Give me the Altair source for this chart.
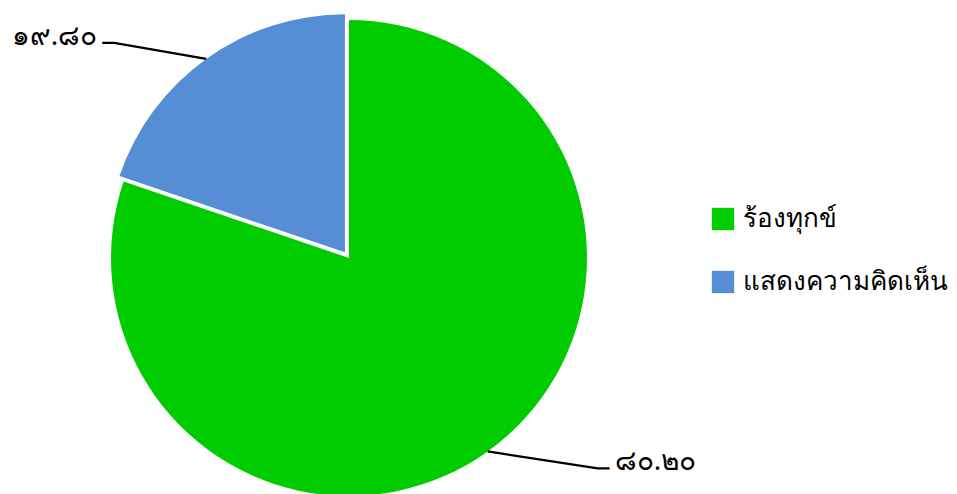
import math
import altair as alt
import pandas as pd

# ---- data ----
categories = ["ร้องทุกข์", "แสดงความคิดเห็น"]
values = [80.20, 19.80]
value_labels = ["๘๐.๒๐", "๑๙.๘๐"]
colors = ["#00CC00", "#558ED5"]

# ---- layout / style ----
W, H = 941, 500
CX, CY = 341, 250
R = 238
EXPLODE = [0, 7]
ELBOW = [(110, 17), (-92, -16)]   # leader elbow offsets from slice edge
TAIL = [12, -12]
FONT = "Tahoma, Noto Sans, DejaVu Sans, sans-serif"

total = sum(values)
rows, line_rows = [], []
start = 0.0
for i, (c, v, lab) in enumerate(zip(categories, values, value_labels)):
    a0 = start / total * 2 * math.pi
    a1 = (start + v) / total * 2 * math.pi
    mid = (a0 + a1) / 2
    start += v
    sx, sy = math.sin(mid), -math.cos(mid)
    cx = CX + EXPLODE[i] * sx
    cy = CY + EXPLODE[i] * sy
    ex, ey = cx + R * sx, cy + R * sy
    bx, by = ex + ELBOW[i][0], ey + ELBOW[i][1]
    tx, ty = bx + TAIL[i], by
    rows.append(dict(category=c, value=v, label=lab, ord=i, cx=cx, cy=cy,
                     tx=tx + (5 if TAIL[i] > 0 else -5), ty=ty - 6,
                     side="right" if TAIL[i] > 0 else "left"))
    for k, (px, py) in enumerate([(ex, ey), (bx, by), (tx, ty)]):
        line_rows.append(dict(category=c, k=k, px=px, py=py))

df = pd.DataFrame(rows)
ldf = pd.DataFrame(line_rows)

color = alt.Color(
    "category:N",
    scale=alt.Scale(domain=categories, range=colors),
    legend=alt.Legend(
        title=None, orient="none", legendX=702, legendY=198,
        symbolType="square", symbolSize=500, symbolStrokeWidth=0,
        labelFontSize=26, labelFont=FONT, labelColor="#000000",
        labelLimit=400, rowPadding=37, labelOffset=7,
    ),
    sort=categories,
)

pie = alt.Chart(df).mark_arc(outerRadius=R).encode(
    theta=alt.Theta("value:Q", stack=True),
    order=alt.Order("ord:Q"),
    color=color,
    x=alt.X("cx:Q", scale=None),
    y=alt.Y("cy:Q", scale=None),
)

lines = alt.Chart(ldf).mark_line(color="#000000", strokeWidth=2.2).encode(
    x=alt.X("px:Q", scale=None),
    y=alt.Y("py:Q", scale=None),
    detail="category:N",
    order="k:Q",
)

text_r = alt.Chart(df).transform_filter(alt.datum.side == "right").mark_text(
    align="left", baseline="middle", fontSize=28, font=FONT, color="#000000",
    fontWeight="normal"
).encode(x=alt.X("tx:Q", scale=None), y=alt.Y("ty:Q", scale=None), text="label:N")

text_l = alt.Chart(df).transform_filter(alt.datum.side == "left").mark_text(
    align="right", baseline="middle", fontSize=28, font=FONT, color="#000000",
    fontWeight="normal"
).encode(x=alt.X("tx:Q", scale=None), y=alt.Y("ty:Q", scale=None), text="label:N")

chart = alt.layer(pie, lines, text_r, text_l).properties(
    width=W, height=H, autosize=alt.AutoSizeParams(type="none"), padding=0
).configure_view(stroke=None)

chart.save("out.html", embed_options={"renderer": "svg", "actions": False})
